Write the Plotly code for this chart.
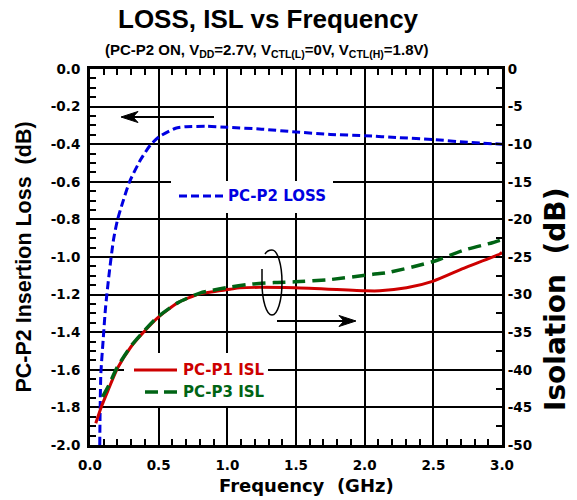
import plotly.graph_objects as go

# ---------------- data ----------------
loss_freq = [0.071, 0.074, 0.079, 0.096, 0.113, 0.14, 0.171, 0.20, 0.237, 0.288, 0.368, 0.441,
             0.504, 0.623, 0.70, 0.85, 1.0, 1.25, 1.5, 1.75, 2.0, 2.25, 2.5, 2.75, 3.0]
loss_db = [-2.0, -1.80, -1.62, -1.44, -1.27, -1.085, -0.909, -0.803, -0.712, -0.60, -0.483, -0.403,
           -0.36, -0.315, -0.307, -0.305, -0.31, -0.32, -0.335, -0.348, -0.355, -0.365, -0.375, -0.39, -0.40]

p1_freq = [0.042, 0.079, 0.13, 0.20, 0.30, 0.395, 0.492, 0.638, 0.80, 1.02, 1.09, 1.49, 2.01, 2.11,
           2.305, 2.50, 2.72, 2.985, 3.0]
p1_isl = [-47.1, -45.1, -42.8, -39.8, -36.9, -34.9, -33.1, -31.1, -29.9, -29.3, -29.1, -29.1, -29.5,
          -29.5, -29.1, -28.2, -26.5, -24.6, -24.4]

p3_freq = [0.091, 0.13, 0.20, 0.30, 0.395, 0.492, 0.638, 0.80, 1.02, 1.18, 1.34, 1.49, 1.75, 2.06,
           2.16, 2.50, 2.72, 2.93, 3.0]
p3_isl = [-43.6, -42.3, -39.6, -36.8, -34.8, -33.0, -31.1, -29.8, -29.0, -28.6, -28.4, -28.3, -28.0,
          -27.3, -27.1, -25.6, -24.1, -23.1, -22.7]

x_ticks = [0.0, 0.5, 1.0, 1.5, 2.0, 2.5, 3.0]
x_ticktext = ["0.0", "0.5", "1.0", "1.5", "2.0", "2.5", "3.0"]
y_ticks = [0.0, -0.2, -0.4, -0.6, -0.8, -1.0, -1.2, -1.4, -1.6, -1.8, -2.0]
y_ticktext = ["0.0", "-0.2", "-0.4", "-0.6", "-0.8", "-1.0", "-1.2", "-1.4", "-1.6", "-1.8", "-2.0"]
y2_ticks = [0, -5, -10, -15, -20, -25, -30, -35, -40, -45, -50]
y2_ticktext = ["0", "-5", "-10", "-15", "-20", "-25", "-30", "-35", "-40", "-45", "-50"]

BLUE = "rgb(0,0,225)"
RED = "rgb(205,0,0)"
GREEN = "rgb(0,100,20)"

# ---------------- layout geometry (pixels) ----------------
W, H = 577, 500
L, R, T, B = 90, 75, 69, 55
PW, PH = W - L - R, H - T - B
XMAX, YMIN = 3.0, -2.0


def px(x):
    return (x - L) / PW


def py(y):
    return (H - B - y) / PH


def dx(x):  # pixel -> x-axis units (for decoration shapes)
    return px(x) * XMAX


def dy(y):  # pixel -> left y-axis units (for decoration shapes)
    return YMIN + py(y) * (-YMIN)


def path(points, close=False):
    s = ""
    for cmd, pts in points:
        if cmd == "L":
            s += " ".join(f"L {px(a):.5f},{py(b):.5f}" for a, b in pts)
        else:
            s += cmd + " " + " ".join(f"{px(a):.5f},{py(b):.5f}" for a, b in pts)
        s += " "
    if close:
        s += "Z"
    return s


fig = go.Figure()
fig.add_trace(go.Scatter(x=loss_freq, y=loss_db, mode="lines", name="PC-P2 LOSS",
                         line=dict(color=BLUE, width=3, dash="8px,4px", shape="spline", smoothing=0.6),
                         yaxis="y", showlegend=False))
fig.add_trace(go.Scatter(x=p1_freq, y=p1_isl, mode="lines", name="PC-P1 ISL",
                         line=dict(color=RED, width=3, shape="spline", smoothing=0.6),
                         yaxis="y2", showlegend=False))
fig.add_trace(go.Scatter(x=p3_freq, y=p3_isl, mode="lines", name="PC-P3 ISL",
                         line=dict(color=GREEN, width=3.5, dash="13px,7px", shape="spline", smoothing=0.6),
                         yaxis="y2", showlegend=False))

tickfont = dict(family="DejaVu Sans", size=13.5, color="black", weight="bold")

shapes = []
# white boxes behind legend texts (between grid and traces)
for x0, y0, x1, y1 in [(171, 181, 333, 213), (124, 353, 268, 406)]:
    shapes.append(dict(type="rect", xref="x", yref="y", x0=dx(x0), x1=dx(x1), y0=dy(y1), y1=dy(y0),
                       fillcolor="white", line=dict(width=0), layer="between"))
# legend sample lines
shapes.append(dict(type="line", xref="paper", yref="paper", x0=px(179), x1=px(223), y0=py(196), y1=py(196),
                   line=dict(color=BLUE, width=3, dash="8px,4px")))
shapes.append(dict(type="line", xref="paper", yref="paper", x0=px(134), x1=px(177), y0=py(370), y1=py(370),
                   line=dict(color=RED, width=3)))
shapes.append(dict(type="line", xref="paper", yref="paper", x0=px(145), x1=px(177), y0=py(392), y1=py(392),
                   line=dict(color=GREEN, width=3.5, dash="13px,6px")))
# arrows
shapes.append(dict(type="line", xref="paper", yref="paper", x0=px(214), x1=px(130), y0=py(117), y1=py(117),
                   line=dict(color="black", width=2)))
shapes.append(dict(type="path", xref="paper", yref="paper",
                   path=path([("M", [(121, 117)]), ("L", [(138, 111.5), (133, 117), (138, 122.5)])], True),
                   fillcolor="black", line=dict(color="black", width=1)))
shapes.append(dict(type="line", xref="paper", yref="paper", x0=px(277), x1=px(347), y0=py(321), y1=py(321),
                   line=dict(color="black", width=2)))
shapes.append(dict(type="path", xref="paper", yref="paper",
                   path=path([("M", [(356, 321)]), ("L", [(339, 315.5), (344, 321), (339, 326.5)])], True),
                   fillcolor="black", line=dict(color="black", width=1)))
# loop (open ellipse)
cx, cy, rx, ry, k = 272, 282.5, 10, 32.5, 0.5523
shapes.append(dict(type="path", xref="paper", yref="paper",
                   path=path([("M", [(cx - rx, 269)]), ("L", [(cx - rx, cy)]),
                              ("C", [(cx - rx, cy + k * ry), (cx - k * rx, cy + ry), (cx, cy + ry)]),
                              ("C", [(cx + k * rx, cy + ry), (cx + rx, cy + k * ry), (cx + rx, cy)]),
                              ("C", [(cx + rx, cy - k * ry), (cx + k * rx, cy - ry), (cx, cy - ry)]),
                              ("C", [(cx - 3, cy - ry), (cx - 5.5, cy - ry + 1.5), (cx - 7, cy - ry + 4)])]),
                   line=dict(color="black", width=1.5)))

annotations = [
    dict(text="LOSS, ISL vs Frequency", xref="paper", yref="paper", x=px(268), y=py(19), showarrow=False,
         font=dict(family="Liberation Sans", size=26, color="black", weight="bold"), yanchor="middle"),
    dict(text="(PC-P2 ON, V<sub>DD</sub>=2.7V, V<sub>CTL(L)</sub>=0V, V<sub>CTL(H)</sub>=1.8V)",
         xref="paper", yref="paper", x=px(266), y=py(50), showarrow=False,
         font=dict(family="Liberation Sans", size=15, color="black", weight="bold"), yanchor="middle"),
    dict(text="Frequency  (GHz)", xref="paper", yref="paper", x=px(306), y=py(485), showarrow=False,
         yanchor="middle", font=dict(family="DejaVu Sans", size=18, color="black", weight="bold")),
    dict(text="Isolation  (dB)", xref="paper", yref="paper", x=px(555), y=py(300), showarrow=False,
         textangle=-90, xanchor="center", yanchor="middle",
         font=dict(family="DejaVu Sans", size=28, color="black", weight="bold")),
    dict(text="PC-P2 LOSS", xref="paper", yref="paper", x=px(226), y=py(196), showarrow=False,
         xanchor="left", yanchor="middle", font=dict(family="DejaVu Sans", size=15, color=BLUE, weight="bold")),
    dict(text="PC-P1 ISL", xref="paper", yref="paper", x=px(181), y=py(370), showarrow=False,
         xanchor="left", yanchor="middle", font=dict(family="DejaVu Sans", size=15, color=RED, weight="bold")),
    dict(text="PC-P3 ISL", xref="paper", yref="paper", x=px(181), y=py(392), showarrow=False,
         xanchor="left", yanchor="middle", font=dict(family="DejaVu Sans", size=15, color=GREEN, weight="bold")),
]

fig.update_layout(
    width=W, height=H, margin=dict(l=L, r=R, t=T, b=B),
    paper_bgcolor="white", plot_bgcolor="white",
    shapes=shapes, annotations=annotations, showlegend=False,
    xaxis=dict(range=[0, XMAX], tickvals=x_ticks, ticktext=x_ticktext, tickfont=tickfont,
               showgrid=True, gridcolor="black", gridwidth=2, zeroline=False,
               showline=True, linecolor="black", linewidth=3, mirror="allticks",
               ticks="inside", ticklen=6, tickwidth=2, tickcolor="black", ticklabelstandoff=6,
               minor=dict(dtick=0.1, ticks="inside", ticklen=6, tickwidth=2, tickcolor="black", showgrid=False)),
    yaxis=dict(range=[YMIN, 0], tickvals=y_ticks, ticktext=y_ticktext, tickfont=tickfont,
               showgrid=True, gridcolor="black", gridwidth=2, zeroline=False,
               showline=True, linecolor="black", linewidth=3,
               ticks="inside", ticklen=6, tickwidth=2, tickcolor="black", ticklabelstandoff=4,
               minor=dict(dtick=0.05, ticks="inside", ticklen=6, tickwidth=2, tickcolor="black", showgrid=False),
               title=dict(text="PC-P2 Insertion Loss  (dB)", standoff=14,
                          font=dict(family="Liberation Sans", size=21.5, color="black", weight="bold"))),
    yaxis2=dict(range=[-50, 0], tickvals=y2_ticks, ticktext=y2_ticktext, tickfont=tickfont,
                overlaying="y", side="right", showgrid=False, zeroline=False,
                showline=True, linecolor="black", linewidth=3,
                ticks="inside", ticklen=6, tickwidth=2, tickcolor="black", ticklabelstandoff=0,
                minor=dict(dtick=2.5, ticks="inside", ticklen=6, tickwidth=2, tickcolor="black", showgrid=False)),
)

fig.write_html("out.html", config={"displayModeBar": False},
               post_script="document.body.style.margin='0';")
